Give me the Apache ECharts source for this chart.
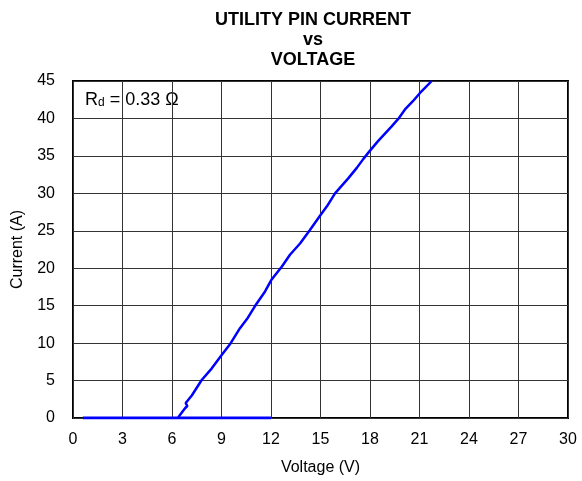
<!DOCTYPE html>
<html>
<head>
<meta charset="utf-8">
<script src="https://cdn.jsdelivr.net/npm/echarts@6/dist/echarts.min.js"></script>
<style>
    html, body { margin: 0; padding: 0; background: #fff; }
    #chart { width: 582px; height: 481px; }
</style>
</head>
<body>
<div id="chart"></div>
<script>
// values
var voltage = [6.38, 6.79, 6.93, 6.83, 7.2, 7.8, 8.4, 9.01, 9.5, 10.12, 10.6, 11.03, 11.64, 12.04, 12.65, 13.15, 13.76, 14.36, 14.97, 15.4, 15.88, 16.68, 17.2, 17.6, 18.0, 18.5, 19.3, 19.7, 20.12, 20.6, 21.03, 21.3, 21.74];
var current = [0.1, 1.3, 1.6, 2.0, 3.0, 5.07, 6.6, 8.4, 9.8, 12.0, 13.4, 14.95, 16.9, 18.5, 20.2, 21.8, 23.3, 25.1, 27.0, 28.3, 30.0, 32.0, 33.4, 34.6, 35.7, 37.0, 38.9, 39.9, 41.2, 42.3, 43.4, 44.0, 45.0];
var offVoltage = [0.6, 12];
var offCurrent = [0, 0];
var xTicks = [0, 3, 6, 9, 12, 15, 18, 21, 24, 27, 30];
var yTicks = [0, 5, 10, 15, 20, 25, 30, 35, 40, 45];

var font = 'Liberation Sans, Arial, sans-serif';

var myChart = echarts.init(document.getElementById('chart'));
var option = {
    animation: false,
    textStyle: { fontFamily: font },
    title: {
        text: 'UTILITY PIN CURRENT\nvs\nVOLTAGE',
        left: 308,
        top: 5,
        textAlign: 'center',
        textStyle: {
            fontFamily: font,
            fontSize: 18,
            fontWeight: 'bold',
            color: '#000',
            lineHeight: 20
        }
    },
    grid: {
        left: 73,
        right: 14,
        top: 81,
        bottom: 63,
        show: true,
        borderColor: '#000',
        borderWidth: 2,
        backgroundColor: 'transparent'
    },
    xAxis: {
        type: 'value',
        min: xTicks[0],
        max: xTicks[xTicks.length - 1],
        interval: 3,
        name: 'Voltage (V)',
        nameLocation: 'middle',
        nameGap: 42,
        nameTextStyle: { fontFamily: font, fontSize: 16, color: '#000' },
        axisLine: { show: false },
        axisTick: { show: false },
        axisLabel: { fontFamily: font, fontSize: 16, color: '#000', margin: 14 },
        splitLine: { show: true, lineStyle: { color: '#333', width: 1 } }
    },
    yAxis: {
        type: 'value',
        min: yTicks[0],
        max: yTicks[yTicks.length - 1],
        interval: 5,
        name: 'Current (A)',
        nameLocation: 'middle',
        nameGap: 47,
        nameRotate: 90,
        nameTextStyle: { fontFamily: font, fontSize: 16, color: '#000' },
        axisLine: { show: false },
        axisTick: { show: false },
        axisLabel: { fontFamily: font, fontSize: 16, color: '#000', margin: 18 },
        splitLine: { show: true, lineStyle: { color: '#333', width: 1 } }
    },
    graphic: [
        {
            type: 'text',
            left: 85,
            top: 91,
            style: {
                text: '{r|R}{s|d}{r| = 0.33 Ω}',
                rich: {
                    r: { fontFamily: font, fontSize: 18, fill: '#000', verticalAlign: 'bottom' },
                    s: { fontFamily: font, fontSize: 12, fill: '#000', padding: [7, 0, 0, 0] }
                }
            }
        }
    ],
    series: [
        {
            type: 'line',
            data: offVoltage.map(function (v, i) { return [v, offCurrent[i]]; }),
            symbol: 'none',
            lineStyle: { color: '#0000ff', width: 3 },
            z: 3
        },
        {
            type: 'line',
            data: voltage.map(function (v, i) { return [v, current[i]]; }),
            symbol: 'none',
            lineStyle: { color: '#0000ff', width: 2.5 },
            z: 3
        }
    ]
};
myChart.setOption(option, true);
</script>
</body>
</html>
